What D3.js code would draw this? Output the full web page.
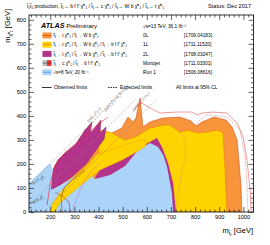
<!DOCTYPE html>
<html>
<head>
<meta charset="utf-8">
<script src="https://cdnjs.cloudflare.com/ajax/libs/d3/7.8.5/d3.min.js"></script>
<style>
body{margin:0;background:#fff;}
svg{display:block;font-family:"Liberation Sans",Arial,Helvetica,sans-serif;}
</style>
</head>
<body>
<script>
// exclusion contours, points are [m(stop), m(lsp)] in GeV
var region0L = [[199,0],[994,0],[990,112],[982,208],[974,300],[953,354],[928,383],[878,395],[829,375],[804,358],[783,379],[737,395],[667,391],[613,375],[584,354],[572,474],[555,391],[543,375],[522,395],[497,350],[456,329],[406,279],[323,196],[240,92],[207,29]];
var region1L = [[398,329],[414,341],[456,329],[510,300],[551,312],[580,329],[613,350],[667,362],[696,362],[737,333],[771,341],[812,329],[849,333],[895,341],[916,329],[924,187],[932,0],[600,0],[400,250]];
var region1Ldiag = [[199,0],[207,33],[240,79],[274,117],[315,158],[356,196],[390,237],[448,258],[510,279],[572,300],[597,296],[597,275],[564,254],[497,216],[406,175],[323,108],[240,37],[219,0]];
var region2L = [[203,92],[211,175],[232,216],[261,246],[303,279],[344,341],[373,375],[365,329],[385,350],[410,383],[406,329],[431,354],[423,304],[390,258],[348,200],[298,154],[249,117]];
var region2Lband = [[385,142],[406,175],[497,216],[564,254],[597,283],[642,308],[663,271],[688,204],[709,121],[721,0],[613,0],[385,92]];
var regionRun1 = [[112,0],[112,121],[199,204],[211,175],[203,92],[249,112],[298,146],[348,183],[365,158],[385,137],[448,154],[510,191],[564,258],[613,287],[647,271],[668,237],[684,187],[704,79],[709,0]];

// other contour lines
var exp0L = [[791,358],[849,404],[932,395],[986,341],[1007,229],[1015,104],[1019,0]];
var redOuter = [[543,416],[572,458],[613,433],[655,412],[725,416],[787,416],[808,404],[829,412],[874,416],[932,412],[974,370],[999,312],[1015,216],[1028,92],[1032,0]];
var exp2L = [[721,0],[729,71],[742,154],[762,237],[758,300],[737,341]];
var exp2Lleft = [[290,0],[307,50],[332,112],[365,166],[406,204]];
var monojetObs = [[187,29],[199,112],[220,196],[261,246],[323,300],[385,354],[439,395]];
var darkObs1 = [[249,0],[245,58],[257,100],[290,133],[344,175]];
var darkObs2 = [[282,0],[278,42],[249,67],[220,83]];

// kinematic lines
var dm0 = [[112,112],[345,345]];
var dm0upper = [[345,340],[490,500]];
var dmWb = [[112,27],[555,470]];
var dmTop = [[173,0],[645,472]];
var dmLabels = [[385,400,"Δm(t̃₁,χ̃⁰₁)=0"],[477,470,"Δm(t̃₁,χ̃⁰₁)=m_W+m_b"],[580,458,"Δm(t̃₁,χ̃⁰₁)=m_t"]];
var decayLabels = [[155,128,"b f f' χ̃⁰₁"],[152,46,"W b χ̃⁰₁"]];

var xTicks = [200,300,400,500,600,700,800,900,1000];
var yTicks = [0,100,200,300,400,500,600,700,800];

var legendRows = [
  {text:"t̃₁→ t χ̃⁰₁ / t̃₁→ W b χ̃⁰₁", ana:"0L", ref:"[1709.04183]"},
  {text:"t̃₁→ t χ̃⁰₁ / t̃₁→ W b χ̃⁰₁ / t̃₁→ b f f' χ̃⁰₁", ana:"1L", ref:"[1711.11520]"},
  {text:"t̃₁→ t χ̃⁰₁ / t̃₁→ W b χ̃⁰₁ / t̃₁→ b f f' χ̃⁰₁", ana:"2L", ref:"[1708.03247]"},
  {text:"t̃₁→ c χ̃⁰₁ / t̃₁→ b f f' χ̃⁰₁", ana:"Monojet", ref:"[1711.03301]"},
  {text:"√s=8 TeV, 20 fb⁻¹", ana:"Run 1", ref:" [1506.08616]"}
];

var svg = d3.select("body").append("svg")
            .attr("width", 270)
            .attr("height", 245);

var x = d3.scaleLinear().domain([112,1042]).range([29,253.5]);
var y = d3.scaleLinear().domain([0,820]).range([212,15]);

var line = d3.line()
             .x(function(d){ return x(d[0]); })
             .y(function(d){ return y(d[1]); });

svg.append("clipPath").attr("id", "plotClip")
   .append("rect")
   .attr("x", 29).attr("y", 15)
   .attr("width", 224.5).attr("height", 197);

var plot = svg.append("g").attr("clip-path", "url(#plotClip)");

function area(data, fill, stroke, sw){
    plot.append("path")
        .attr("d", line(data) + "Z")
        .attr("fill", fill)
        .attr("stroke", stroke)
        .attr("stroke-width", sw)
        .attr("stroke-linejoin", "round");
}
function contour(data, color, sw, dash){
    plot.append("path")
        .attr("d", line(data))
        .attr("fill", "none")
        .attr("stroke", color)
        .attr("stroke-width", sw)
        .attr("stroke-dasharray", dash || null);
}

// filled areas, painted bottom to top
area(region0L, "#f7943c", "#d4501c", 0.6);
area(region1L, "#ffd300", "#f07818", 0.6);
area(region2L, "#b4348c", "#7d1a58", 0.5);
area(region2Lband, "#b4348c", "none", 0);
area(regionRun1, "#acd4f8", "none", 0);
area(region1Ldiag, "#ffd300", "#e89a10", 0.4);

contour(redOuter, "#ee3030", 0.5);
contour(exp0L, "#d06060", 0.5, "1.5,1");
contour(exp2L, "#e070a8", 0.5, "1.5,1");
contour(exp2Lleft, "#e050c0", 0.6, "1.5,1");
contour(monojetObs, "#e82020", 0.6);
contour(darkObs1, "#7a2a1a", 0.5);
contour(darkObs2, "#8a3020", 0.5);

contour(dm0, "#8a8a8a", 0.5, "2,1.5");
contour(dm0upper, "#a0602a", 0.6, "2,1.5");
contour(dmWb, "#8a8a8a", 0.5, "2,1.5");
contour(dmTop, "#8a8a8a", 0.5, "2,1.5");

plot.selectAll(".dmLabel")
    .data(dmLabels)
    .enter().append("text")
    .attr("class", "dmLabel")
    .attr("transform", function(d){ return "translate(" + x(d[0]) + "," + y(d[1]) + ") rotate(-48)"; })
    .attr("text-anchor", "middle")
    .attr("font-size", 3.6)
    .attr("fill", "#707070")
    .text(function(d){ return d[2]; });

plot.selectAll(".decayLabel")
    .data(decayLabels)
    .enter().append("text")
    .attr("class", "decayLabel")
    .attr("transform", function(d){ return "translate(" + x(d[0]) + "," + y(d[1]) + ") rotate(-30)"; })
    .attr("text-anchor", "middle")
    .attr("font-size", 4.2)
    .attr("fill", "#444")
    .text(function(d){ return d[2]; });

// axes with inside ticks on all four sides
var xMinor = d3.range(120, 1042, 20).filter(function(v){ return v % 100 !== 0; });
var yMinor = d3.range(20, 820, 20).filter(function(v){ return v % 100 !== 0; });

function axis(gen, scale, values, size, labels, tr){
    var a = gen(scale).tickValues(values).tickSize(-size).tickPadding(3)
                      .tickFormat(labels ? d3.format("d") : "");
    var g = svg.append("g").attr("transform", tr).call(a);
    g.select(".domain").remove();
    g.selectAll("line").attr("stroke", "#000").attr("stroke-width", 0.6);
    g.attr("font-size", 5.6).attr("font-family", null);
    return g;
}
axis(d3.axisBottom, x, xTicks, 5, true, "translate(0,212)");
axis(d3.axisBottom, x, xMinor, 2.5, false, "translate(0,212)");
axis(d3.axisTop, x, xTicks, 5, false, "translate(0,15)");
axis(d3.axisTop, x, xMinor, 2.5, false, "translate(0,15)");
axis(d3.axisLeft, y, yTicks, 5, true, "translate(29,0)");
axis(d3.axisLeft, y, yMinor, 2.5, false, "translate(29,0)");
axis(d3.axisRight, y, yTicks, 5, false, "translate(253.5,0)");
axis(d3.axisRight, y, yMinor, 2.5, false, "translate(253.5,0)");

svg.append("rect")
   .attr("x", 29).attr("y", 15)
   .attr("width", 224.5).attr("height", 197)
   .attr("fill", "none")
   .attr("stroke", "#000")
   .attr("stroke-width", 0.8);

// axis titles
svg.append("text")
   .attr("x", 253).attr("y", 233)
   .attr("text-anchor", "end")
   .attr("font-size", 7.5)
   .text("m")
   .append("tspan").attr("font-size", 5).attr("dy", 1.5).text("t̃₁")
   .select(function(){ return this.parentNode; })
   .append("tspan").attr("dy", -1.5).text(" [GeV]");

svg.append("text")
   .attr("transform", "translate(10,9) rotate(-90)")
   .attr("text-anchor", "end")
   .attr("font-size", 7.5)
   .text("m")
   .append("tspan").attr("font-size", 5).attr("dy", 1.5).text("χ̃⁰₁")
   .select(function(){ return this.parentNode; })
   .append("tspan").attr("dy", -1.5).text(" [GeV]");

// header
svg.append("text")
   .attr("x", 27).attr("y", 8)
   .attr("font-size", 5)
   .text("t̃₁t̃₁ production, t̃₁→ b f f' χ̃⁰₁ / t̃₁→ c χ̃⁰₁ / t̃₁→ W b χ̃⁰₁ / t̃₁→ t χ̃⁰₁");
svg.append("text")
   .attr("x", 251).attr("y", 8)
   .attr("text-anchor", "end")
   .attr("font-size", 5.6)
   .text("Status: Dec 2017");

// legend
var lg = svg.append("g");
lg.append("text")
  .attr("x", 41).attr("y", 28)
  .attr("font-size", 7.2)
  .attr("font-weight", "bold")
  .attr("font-style", "italic")
  .text("ATLAS")
  .append("tspan")
  .attr("font-weight", "normal")
  .attr("font-style", "normal")
  .attr("font-size", 6.2)
  .text(" Preliminary");
lg.append("text")
  .attr("x", 143).attr("y", 27.5)
  .attr("font-size", 4.8)
  .text("√s=13 TeV, 36.1 fb⁻¹");

var swatch = [
  {fill:["#f7943c"], line:"#d4501c"},
  {fill:["#ffd300"], line:"#f07818"},
  {fill:["#b4348c"], line:"#b4348c"},
  {fill:["#bdbdbd","#f03a3a"], line:"#555"},
  {fill:["#acd4f8"], line:"#5a9be0"}
];
var row = lg.selectAll(".row")
            .data(legendRows)
            .enter().append("g")
            .attr("class", "row")
            .attr("transform", function(d,i){ return "translate(0," + (35.5 + i*9.2) + ")"; });

row.each(function(d,i){
    var g = d3.select(this), s = swatch[i];
    var w = 9 / s.fill.length;
    s.fill.forEach(function(c,k){
        g.append("rect")
         .attr("x", 42.5 + k*w).attr("y", -3)
         .attr("width", w).attr("height", 6)
         .attr("fill", c);
    });
    g.append("line")
     .attr("x1", 42.5).attr("x2", 51.5)
     .attr("y1", 0).attr("y2", 0)
     .attr("stroke", i === 3 ? "#666" : s.line)
     .attr("stroke-width", 0.8);
    if(i === 3){
        g.append("line")
         .attr("x1", 47).attr("x2", 51.5)
         .attr("y1", 0).attr("y2", 0)
         .attr("stroke", "#b01010")
         .attr("stroke-width", 0.8);
    }
});
row.append("text")
   .attr("x", 53.5).attr("y", 1.7)
   .attr("font-size", 4.6)
   .text(function(d){ return d.text; });
row.append("text")
   .attr("x", 143).attr("y", 1.7)
   .attr("font-size", 4.8)
   .text(function(d){ return d.ana; });
row.append("text")
   .attr("x", 184).attr("y", 1.7)
   .attr("font-size", 4.8)
   .text(function(d){ return d.ref; });

lg.append("line")
  .attr("x1", 42).attr("x2", 51.5)
  .attr("y1", 87.5).attr("y2", 87.5)
  .attr("stroke", "#333").attr("stroke-width", 1);
lg.append("text")
  .attr("x", 54).attr("y", 89.3)
  .attr("font-size", 4.8)
  .text("Observed limits");
lg.append("line")
  .attr("x1", 108).attr("x2", 118)
  .attr("y1", 87.5).attr("y2", 87.5)
  .attr("stroke", "#333").attr("stroke-width", 1)
  .attr("stroke-dasharray", "1.5,1");
lg.append("text")
  .attr("x", 120).attr("y", 89.3)
  .attr("font-size", 4.8)
  .text("Expected limits");
lg.append("text")
  .attr("x", 176).attr("y", 89.3)
  .attr("font-size", 4.8)
  .text("All limits at 95% CL");
</script>
</body>
</html>
